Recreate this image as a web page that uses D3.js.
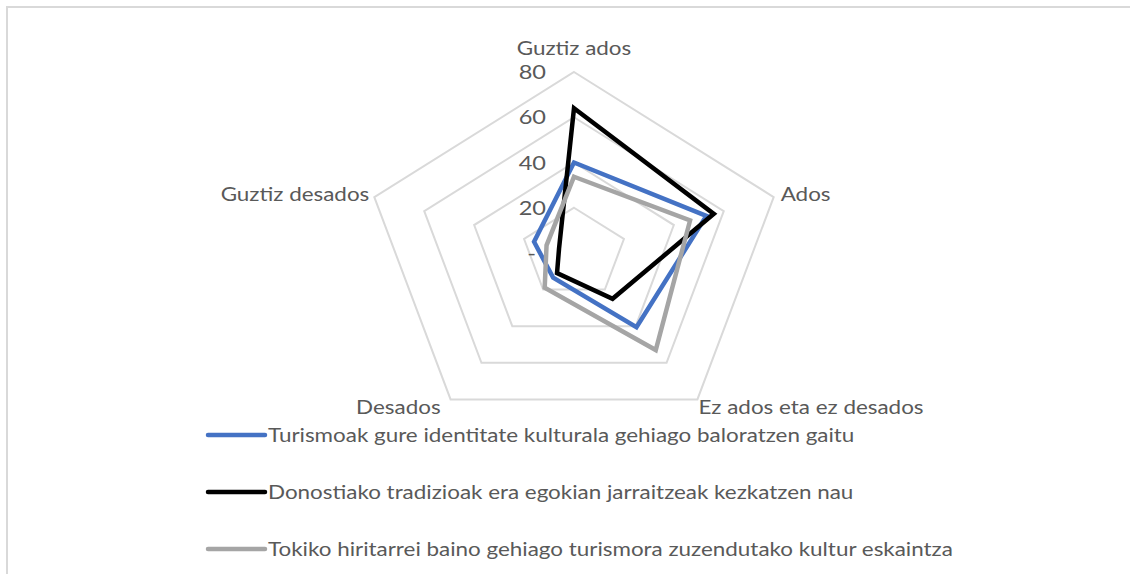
<!DOCTYPE html>
<html>
<head>
<meta charset="utf-8">
<script src="https://cdn.jsdelivr.net/npm/d3@7"></script>
<style>
    body { margin: 0; background: #fff; }
    text { font-family: Lato, "Open Sans", sans-serif; fill: #595959; }
</style>
</head>
<body>
<div id="chart"></div>
<script>
// axes of the radar, clockwise from the top
const categories = ["Guztiz ados", "Ados", "Ez ados eta ez desados", "Desados", "Guztiz desados"];

const seriesNames = [
    "Turismoak gure identitate kulturala gehiago baloratzen gaitu",
    "Donostiako tradizioak era egokian jarraitzeak kezkatzen nau",
    "Tokiko hiritarrei baino gehiago turismora zuzendutako kultur eskaintza"
];

const turismoakValues = [40, 53, 40.5, 13.5, 16];
const donostiakoValues = [64, 56, 25, 11, 6];
const tokikoValues = [33.7, 46.5, 53, 19, 11];

const tickValues = [0, 20, 40, 60, 80];
const tickLabels = ["-", "20", "40", "60", "80"];

const colors = ["#4472c4", "#000000", "#a5a5a5"];

const width = 1130, height = 574;
const cx = 574, cy = 253;
const stretchX = 1.16;   // the picture is a bit wider than tall
const textStretch = 1.18; // text is stretched the same way

const svg = d3.select("#chart").append("svg")
    .attr("width", width)
    .attr("height", height);

// outer frame
svg.append("rect")
    .attr("x", 7).attr("y", 7)
    .attr("width", width).attr("height", height)
    .attr("fill", "none")
    .attr("stroke", "#d9d9d9")
    .attr("stroke-width", 2);

const r = d3.scaleLinear().domain([0, 80]).range([0, 181]);
const angle = d3.scaleLinear().domain([0, categories.length]).range([0, 2 * Math.PI]);

function px(i, v) { return cx + Math.sin(angle(i)) * r(v) * stretchX; }
function py(i, v) { return cy - Math.cos(angle(i)) * r(v); }

function place(x, y) { return `translate(${x}, ${y}) scale(${textStretch}, 1)`; }

// grid pentagons
svg.append("g")
    .selectAll("polygon")
    .data(tickValues.filter(d => d > 0))
    .join("polygon")
    .attr("points", v => categories.map((c, i) => [px(i, v), py(i, v)].join(",")).join(" "))
    .attr("fill", "none")
    .attr("stroke", "#d9d9d9")
    .attr("stroke-width", 2);

// tick labels along the top spoke
svg.append("g")
    .selectAll("text")
    .data(tickValues)
    .join("text")
    .attr("transform", d => place(d === 0 ? 536 : 546, py(0, d)))
    .attr("dy", "0.35em")
    .attr("text-anchor", "end")
    .attr("font-size", 20)
    .text((d, i) => tickLabels[i]);

// category labels
const labelPos = [
    {dx: 0, dy: -24, anchor: "middle"},
    {dx: 7, dy: -3, anchor: "start"},
    {dx: 1, dy: 8, anchor: "start"},
    {dx: -10, dy: 8, anchor: "end"},
    {dx: -5, dy: -3, anchor: "end"}
];

svg.append("g")
    .selectAll("text")
    .data(categories)
    .join("text")
    .attr("transform", (d, i) => place(px(i, 80) + labelPos[i].dx, py(i, 80) + labelPos[i].dy))
    .attr("dy", "0.35em")
    .attr("text-anchor", (d, i) => labelPos[i].anchor)
    .attr("font-size", 19)
    .text(d => d);

// series
const allSeries = [turismoakValues, donostiakoValues, tokikoValues];

const line = d3.line()
    .x(d => px(d.i, d.v))
    .y(d => py(d.i, d.v))
    .curve(d3.curveLinearClosed);

svg.append("g")
    .selectAll("path")
    .data(allSeries)
    .join("path")
    .attr("d", vals => line(vals.map((v, i) => ({i: i, v: v}))))
    .attr("fill", "none")
    .attr("stroke", (d, i) => colors[i])
    .attr("stroke-width", 4.5)
    .attr("stroke-linejoin", "miter");

// legend
const legend = svg.append("g")
    .selectAll("g")
    .data(seriesNames)
    .join("g")
    .attr("transform", (d, i) => `translate(208, ${435 + i * 57})`);

legend.append("line")
    .attr("x1", 0).attr("x2", 57)
    .attr("stroke", (d, i) => colors[i])
    .attr("stroke-width", 4.5)
    .attr("stroke-linecap", "round");

legend.append("text")
    .attr("transform", place(60, 0))
    .attr("dy", "0.35em")
    .attr("font-size", 19)
    .text(d => d);
</script>
</body>
</html>
